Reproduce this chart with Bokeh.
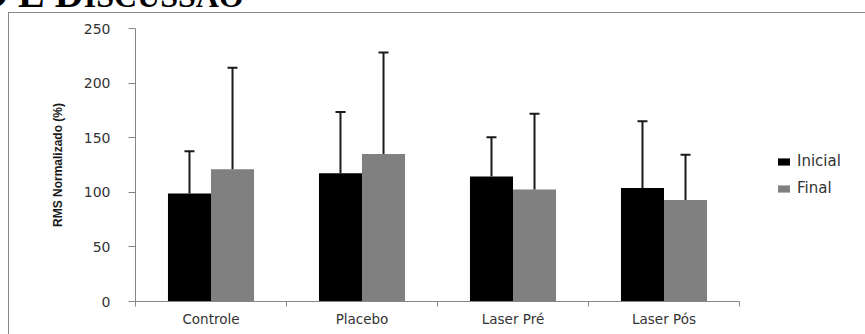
import numpy as np
from bokeh.plotting import figure
from bokeh.layouts import column
from bokeh.models import (ColumnDataSource, Range1d, FixedTicker, Whisker, TeeHead,
                          Legend, LegendItem, Div)
from bokeh.embed import file_html
from bokeh.resources import INLINE

# RMS normalizado (%) por grupo: média e desvio-padrão, avaliação inicial e final
categories = ["Controle", "Placebo", "Laser Pré", "Laser Pós"]
inicial_mean = [99, 117.5, 114.5, 104]
inicial_sd = [38.5, 56, 36, 61]
final_mean = [121, 135, 102.5, 93]
final_sd = [93, 93, 69.5, 41.5]
y_ticks = [0, 50, 100, 150, 200, 250]

W, H = 865, 334
LEFT, RIGHT, TOP, BOTTOM = 135, 5, 28, 33
CAT_AXIS_PX = 604          # length of the category axis; the legend sits to its right
AXIS_GRAY = "#868686"
TEXT = "#333333"

n = len(categories)
centers = np.arange(n) + 0.5
bar_w = 0.285
off = bar_w / 2
x_end = n * (W - LEFT - RIGHT) / CAT_AXIS_PX

src_ini = ColumnDataSource(dict(
    x=centers - off, top=inicial_mean,
    upper=np.array(inicial_mean) + np.array(inicial_sd)))
src_fin = ColumnDataSource(dict(
    x=centers + off, top=final_mean,
    upper=np.array(final_mean) + np.array(final_sd)))

p = figure(width=W, height=H, output_backend="svg", toolbar_location=None,
           x_range=Range1d(0, x_end), y_range=Range1d(0, 250),
           min_border_left=LEFT, min_border_right=RIGHT,
           min_border_top=TOP, min_border_bottom=BOTTOM)
p.background_fill_color = "white"
p.border_fill_color = "white"
p.outline_line_color = None
p.grid.visible = False

r_ini = p.vbar(x="x", top="top", width=bar_w, bottom=0, source=src_ini,
               fill_color="black", line_color=None)
r_fin = p.vbar(x="x", top="top", width=bar_w, bottom=0, source=src_fin,
               fill_color="#808080", line_color=None)

for src in (src_ini, src_fin):
    w = Whisker(base="x", upper="upper", lower="top", source=src,
                line_color="#1a1a1a", line_width=2,
                upper_head=TeeHead(size=10, line_color="#1a1a1a", line_width=2),
                lower_head=None, level="overlay")
    p.add_layout(w)

# x axis: labels at category centres, separators between categories
xa = p.xaxis[0]
xa.bounds = (0, n)
xa.ticker = FixedTicker(ticks=list(centers), minor_ticks=list(range(n + 1)))
xa.major_label_overrides = {float(c): name for c, name in zip(centers, categories)}
xa.major_tick_line_color = None
xa.major_tick_out = 0
xa.minor_tick_line_color = AXIS_GRAY
xa.minor_tick_out = 5
xa.minor_tick_in = 0
xa.axis_line_color = AXIS_GRAY
xa.major_label_standoff = 4
xa.major_label_text_font = "DejaVu Sans"
xa.major_label_text_font_size = "13.5px"
xa.major_label_text_color = TEXT

ya = p.yaxis[0]
ya.ticker = FixedTicker(ticks=y_ticks)
ya.axis_line_color = AXIS_GRAY
ya.major_tick_line_color = AXIS_GRAY
ya.major_tick_out = 7
ya.major_tick_in = 0
ya.minor_tick_line_color = None
ya.major_label_standoff = 18
ya.major_label_text_font = "DejaVu Sans"
ya.major_label_text_font_size = "14px"
ya.major_label_text_color = TEXT
ya.axis_label = "RMS Normalizado (%)"
ya.axis_label_text_font = "Liberation Sans"
ya.axis_label_text_font_style = "bold"
ya.axis_label_text_font_size = "12px"
ya.axis_label_text_color = "#1a1a1a"
ya.axis_label_standoff = 16

legend = Legend(items=[LegendItem(label="Inicial", renderers=[r_ini]),
                       LegendItem(label="Final", renderers=[r_fin])],
                location=(641, 104), orientation="vertical",
                glyph_width=15, glyph_height=9, label_standoff=6,
                spacing=9, padding=0, margin=0,
                border_line_color=None, background_fill_alpha=0,
                label_text_font="DejaVu Sans", label_text_font_size="15px",
                label_text_color=TEXT)
p.add_layout(legend)

# page heading above the chart and the chart's border (top and left edges)
heading_html = (
    '<div style="position:absolute;left:8px;top:12px;width:870px;height:330px;'
    'border-top:1.5px solid #8a8a8a;border-left:1.5px solid #8a8a8a;'
    'box-sizing:border-box;"></div>'
    '<div style="position:absolute;left:-23px;top:-26px;white-space:nowrap;'
    "font-family:'Liberation Serif',serif;font-weight:bold;font-size:40px;"
    'line-height:1;color:#000;">O E D<span style="font-size:32px">ISCUSSÃO</span></div>'
)
page = Div(text=heading_html, width=W, height=H, margin=0,
           styles={"position": "absolute", "left": "0px", "top": "0px",
                   "pointer-events": "none", "overflow": "hidden"})

layout = column(p, page)
open("out.html", "w").write(file_html(layout, INLINE))
